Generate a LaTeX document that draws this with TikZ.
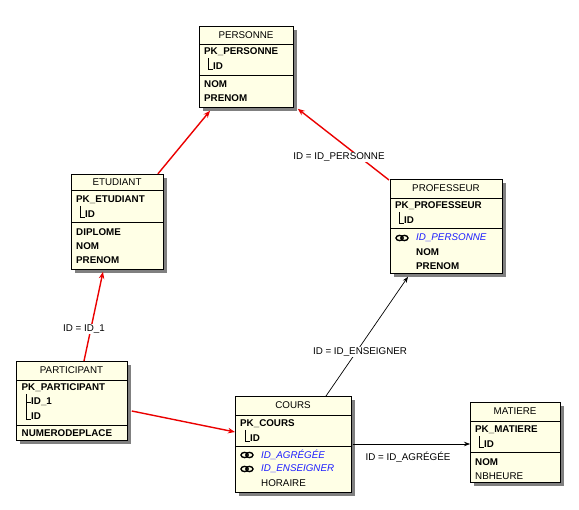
\documentclass[tikz,border=0pt]{standalone}
\usepackage{fontspec}
\setmainfont{Liberation Sans}
\usetikzlibrary{arrows.meta,calc,shadows}
\definecolor{cream}{RGB}{255,255,230}
\definecolor{shd}{RGB}{128,128,128}
\definecolor{fkblue}{RGB}{30,30,255}
\definecolor{relred}{RGB}{235,0,0}
\newcommand\fs{\fontsize{9.8pt}{11pt}\selectfont}
% box: name, x0, y0, w, h, title, sep1 offset, sep2 offset
\newcommand\tblbox[8]{%
  \node[tbox, minimum width=#4pt, minimum height=#5pt, anchor=north west] (#1) at (#2,#3) {};
  \node[ttl] (#1-t) at (#2+#4/2,#3+#7/2) {#6};
  \draw[sep] (#2,#3+#7) -- ++(#4,0);
  \draw[sep] (#2,#3+#8) -- ++(#4,0);
}
\newcommand\corner[3]{\draw[sep] (#1,#2) |- (#1+5,#3);}
\begin{document}
\begin{tikzpicture}[x=1pt,y=-1pt,
  tbox/.style={draw=black,line width=0.8pt,fill=cream,inner sep=0pt,
    drop shadow={shadow xshift=4pt,shadow yshift=-4pt,fill=shd,opacity=1}},
  ttl/.style={inner sep=0pt,font=\fs},
  sep/.style={draw=black,line width=0.8pt},
  rb/.style={inner sep=0pt,anchor=west,font=\fs\bfseries},
  rn/.style={inner sep=0pt,anchor=west,font=\fs},
  rf/.style={inner sep=0pt,anchor=west,font=\fs\itshape,text=fkblue},
  lbl/.style={fill=white,inner sep=1pt,font=\fs},
  redrel/.style={draw=relred,line width=1.4pt,-{Stealth[length=7pt,width=5.5pt]}},
  blkrel/.style={draw=black,line width=0.7pt,-{Stealth[length=6pt,width=4.5pt]}},
  lnk/.pic={\draw[line width=1.4pt] (-2.4,0) ellipse [x radius=3.6, y radius=2.6];
            \draw[line width=1.4pt] (2.4,0) ellipse [x radius=3.6, y radius=2.6];}
]
\fill[white] (0,0) rectangle (579,510);
\useasboundingbox (0,0) rectangle (579,510);

% PERSONNE
\tblbox{per}{199}{26}{94}{81}{PERSONNE}{18}{49}
\node[rb] (per1) at (204,52) {PK\_PERSONNE};
\corner{208}{58}{69}
\node[rb] (per2) at (213,66) {ID};
\node[rb] (per3) at (204,84) {NOM};
\node[rb] (per4) at (204,98) {PRENOM};

% ETUDIANT
\tblbox{etu}{71}{174}{92}{95}{ETUDIANT}{16}{48}
\node[rb] (etu1) at (76,200) {PK\_ETUDIANT};
\corner{80}{206}{217}
\node[rb] (etu2) at (85,214) {ID};
\node[rb] (etu3) at (76,232) {DIPLOME};
\node[rb] (etu4) at (76,246) {NOM};
\node[rb] (etu5) at (76,260) {PRENOM};

% PROFESSEUR
\tblbox{prof}{390}{179}{112}{94}{PROFESSEUR}{19}{49}
\node[rb] (prof1) at (395,206) {PK\_PROFESSEUR};
\corner{399}{212}{223}
\node[rb] (prof2) at (404,220) {ID};
\pic at (402,238) {lnk};
\node[rf] (prof3) at (416,238) {ID\_PERSONNE};
\node[rb] (prof4) at (416,252) {NOM};
\node[rb] (prof5) at (416,266) {PRENOM};

% PARTICIPANT
\tblbox{par}{16}{361}{111}{79}{PARTICIPANT}{19}{64}
\node[rb] (par1) at (21.5,388) {PK\_PARTICIPANT};
\draw[sep] (26,394) |- (31,419);
\draw[sep] (26,402) -- (31,402);
\node[rb] (par2) at (31,402) {ID\_1};
\node[rb] (par3) at (31,416) {ID};
\node[rb] (par4) at (21.5,433) {NUMERODEPLACE};

% COURS
\tblbox{cou}{235}{396}{116}{96}{COURS}{19}{50}
\node[rb] (cou1) at (240,424) {PK\_COURS};
\corner{245}{430}{441}
\node[rb] (cou2) at (250,438) {ID};
\pic at (247,455) {lnk};
\node[rf] (cou3) at (261,455) {ID\_AGRÉGÉE};
\pic at (247,469) {lnk};
\node[rf] (cou4) at (261,469) {ID\_ENSEIGNER};
\node[rn] (cou5) at (261,483) {HORAIRE};

% MATIERE
\tblbox{mat}{470}{402}{90}{80}{MATIERE}{19}{50}
\node[rb] (mat1) at (475,430) {PK\_MATIERE};
\corner{479}{436}{447}
\node[rb] (mat2) at (484,444) {ID};
\node[rb] (mat3) at (475,462) {NOM};
\node[rn] (mat4) at (475,476) {NBHEURE};

% relations
\draw[redrel] ($(etu.north east)+(-6,0)$) -- ($(per.south west)+(11,3)$);
\draw[redrel] ($(prof.north west)+(-1,1)$) -- ($(per.south east)+(4,1)$);
\draw[redrel] ($(par.north west)+(68,0)$) -- ($(etu.south west)+(32,2)$);
\draw[redrel] ($(par.north east)+(4,50)$) -- ($(cou.north west)+(0,36)$);
\draw[blkrel] ($(cou.north west)+(91,0)$) -- ($(prof.south west)+(18,3)$);
\draw[blkrel] ($(cou.north east)+(1,48)$) -- ($(mat.north west)+(0,42)$);

\node[lbl] (l1) at (339,157) {ID = ID\_PERSONNE};
\node[lbl] (l2) at (84,329) {ID = ID\_1};
\node[lbl] (l3) at (360,352) {ID = ID\_ENSEIGNER};
\node[lbl] (l4) at (408,457) {ID = ID\_AGRÉGÉE};
\end{tikzpicture}
\end{document}
